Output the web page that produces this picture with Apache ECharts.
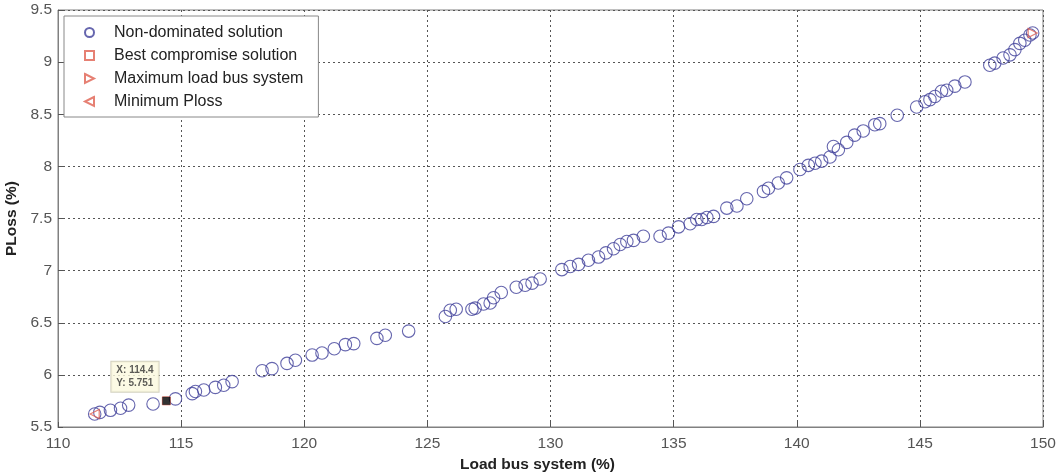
<!DOCTYPE html>
<html>
<head>
<meta charset="utf-8">
<script src="https://cdn.jsdelivr.net/npm/echarts@6/dist/echarts.min.js"></script>
<style>
html,body{margin:0;padding:0;background:#fff;}
#chart{width:1064px;height:476px;}
</style>
</head>
<body>
<div id="chart"></div>
<script>
// Non-dominated solutions (Load bus system %, PLoss %)
const loadBus = [111.49,111.70,112.13,112.54,112.87,113.86,114.77,115.45,115.58,115.92,116.39,116.73,117.07,
  118.29,118.69,119.30,119.64,120.32,120.72,121.22,121.67,122.01,122.95,123.29,124.24,
  125.73,125.93,126.17,126.81,126.94,127.28,127.55,127.69,128.00,128.61,128.97,129.25,129.58,
  130.46,130.80,131.14,131.54,131.95,132.25,132.56,132.83,133.10,133.37,133.77,134.45,134.79,
  135.20,135.67,135.94,136.14,136.35,136.62,137.16,137.57,137.97,138.65,138.85,139.25,139.59,
  140.13,140.47,140.74,141.01,141.35,141.49,141.69,142.03,142.35,142.70,143.17,143.37,144.08,
  144.87,145.21,145.41,145.61,145.88,146.09,146.42,146.83,147.84,148.04,148.38,148.66,148.86,
  149.06,149.26,149.47,149.58];
const ploss = [5.625,5.64,5.66,5.68,5.71,5.72,5.77,5.82,5.84,5.855,5.88,5.90,5.935,
  6.04,6.06,6.11,6.14,6.19,6.21,6.25,6.29,6.30,6.35,6.38,6.42,
  6.56,6.62,6.63,6.63,6.64,6.68,6.69,6.74,6.79,6.84,6.86,6.88,6.92,
  7.01,7.04,7.06,7.10,7.13,7.17,7.21,7.25,7.28,7.29,7.33,7.33,7.36,
  7.42,7.45,7.49,7.49,7.51,7.52,7.60,7.62,7.69,7.76,7.79,7.84,7.89,
  7.97,8.01,8.03,8.05,8.09,8.19,8.16,8.23,8.30,8.34,8.40,8.41,8.49,
  8.57,8.62,8.64,8.67,8.72,8.73,8.77,8.81,8.97,8.99,9.04,9.07,9.12,
  9.18,9.21,9.26,9.28];
const bestX = [114.4], bestY = [5.751];
const maxLoadX = [149.58], maxLoadY = [9.28];
const minLossX = [111.49], minLossY = [5.625];
const xTicks = {min:110, max:150, interval:5};
const yTicks = {min:5.5, max:9.5, interval:0.5};
const seriesNames = ['Non-dominated solution','Best compromise solution','Maximum load bus system','Minimum Ploss'];
const xTitle = 'Load bus system (%)';
const yTitle = 'PLoss (%)';

const zip = (a,b) => a.map((v,i)=>[v,b[i]]);
const BLUE = '#40409a', RED = '#e06050';
const FONT = '"Liberation Sans", Arial, sans-serif';

const chart = echarts.init(document.getElementById('chart'), null, {renderer:'canvas'});
const gridLine = {show:true, lineStyle:{color:'#555', type:[2,3], width:1}};
chart.setOption({
  animation:false,
  backgroundColor:'#fff',
  grid:{left:58, right:21, top:10, bottom:49, show:true, borderColor:'#808080', borderWidth:1,
    backgroundColor:'transparent', containLabel:false, outerBoundsMode:'none'},
  xAxis:{type:'value', min:xTicks.min, max:xTicks.max, interval:xTicks.interval,
    name:xTitle, nameLocation:'middle', nameGap:30,
    nameTextStyle:{fontFamily:FONT, fontSize:15.5, fontWeight:'bold', color:'#222', padding:[0,26,0,0]},
    axisLine:{show:true, lineStyle:{color:'#808080'}},
    axisTick:{show:true, inside:true, length:5, lineStyle:{color:'#555'}},
    axisLabel:{fontFamily:FONT, fontSize:15.5, color:'#555', margin:9},
    splitLine:gridLine},
  yAxis:{type:'value', min:yTicks.min, max:yTicks.max, interval:yTicks.interval,
    name:yTitle, nameLocation:'middle', nameGap:29, nameRotate:90,
    nameTextStyle:{fontFamily:FONT, fontSize:15.5, fontWeight:'bold', color:'#222'},
    axisLine:{show:true, lineStyle:{color:'#808080'}},
    axisTick:{show:true, inside:true, length:5, lineStyle:{color:'#555'}},
    axisLabel:{fontFamily:FONT, fontSize:15.5, color:'#555', margin:6},
    splitLine:gridLine},
  legend:{
    data:seriesNames, orient:'vertical', left:64, top:16,
    padding:[8,15,7,20], itemGap:6, itemWidth:9, itemHeight:9,
    borderColor:'#888', borderWidth:1, backgroundColor:'#fff',
    textStyle:{fontFamily:FONT, fontSize:16, color:'#222', lineHeight:17, padding:[0,0,0,15]}
  },
  series:[
    {name:seriesNames[0], type:'scatter', data:zip(loadBus, ploss), symbol:'circle', symbolSize:12.5,
      itemStyle:{color:'rgba(255,255,255,0)', borderColor:BLUE, borderWidth:1.1}, z:2},
    {name:seriesNames[1], type:'scatter', data:zip(bestX, bestY), symbol:'rect', symbolSize:8,
      itemStyle:{color:'rgba(255,255,255,0)', borderColor:RED, borderWidth:1}, z:3},
    {name:seriesNames[2], type:'scatter', data:zip(maxLoadX, maxLoadY), symbol:'path://M0,0 L10,5 L0,10 Z', symbolSize:9,
      itemStyle:{color:'rgba(255,255,255,0)', borderColor:RED, borderWidth:1.2}, z:3},
    {name:seriesNames[3], type:'scatter', data:zip(minLossX, minLossY), symbol:'path://M10,0 L0,5 L10,10 Z', symbolSize:9,
      itemStyle:{color:'rgba(255,255,255,0)', borderColor:RED, borderWidth:1.2}, z:3},
    {name:'datatip', type:'scatter', data:zip(bestX, bestY), symbol:'rect', symbolSize:8,
      itemStyle:{color:'#000'}, z:5,
      label:{show:true, position:[-51,-35], align:'left', verticalAlign:'top',
        formatter:p => 'X: ' + p.value[0] + '\nY: ' + p.value[1],
        fontFamily:FONT, fontSize:10, fontWeight:'bold', color:'#333', lineHeight:13,
        backgroundColor:'#fbf9df', borderColor:'#c8c6b0', borderWidth:1, padding:[2,5,2,5]}}
  ]
});
</script>
</body>
</html>
